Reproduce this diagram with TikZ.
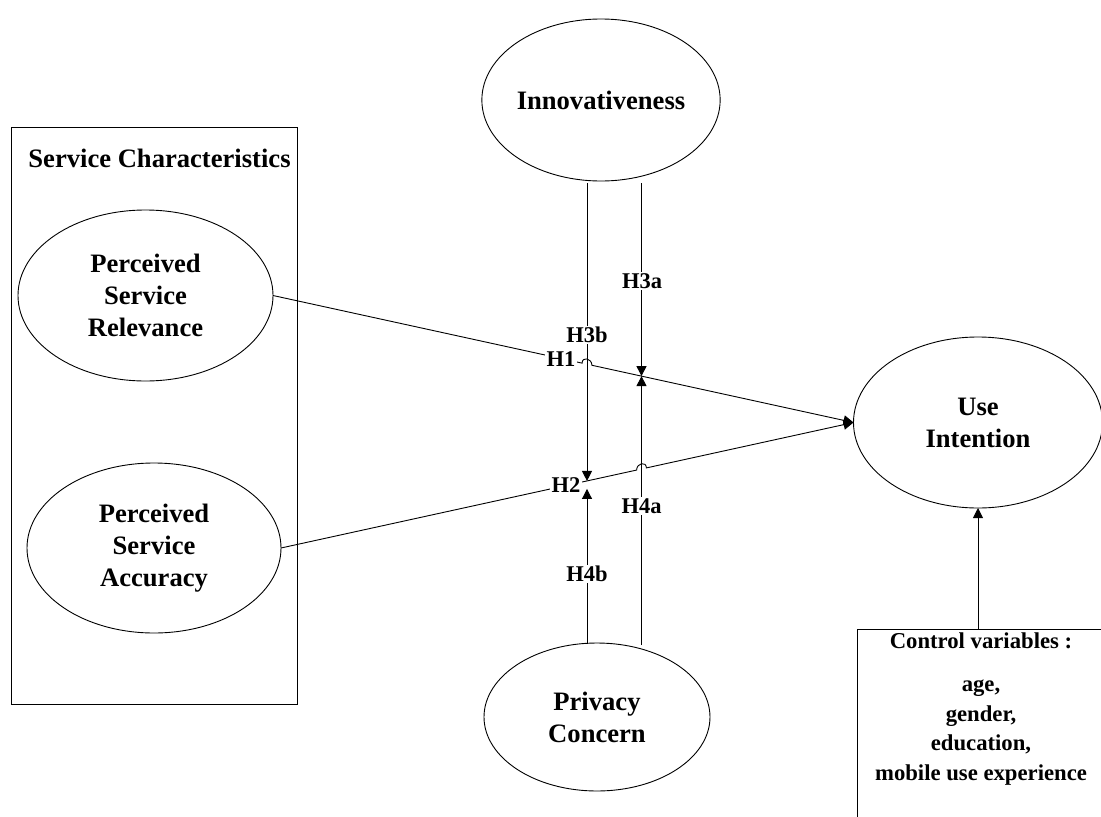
\documentclass[tikz,border=0pt]{standalone}
\usepackage{fontspec}
\setmainfont{Liberation Serif}
\usetikzlibrary{shapes.geometric,arrows.meta,calc}

\begin{document}
\begin{tikzpicture}[x=1pt,y=-1pt,
  construct/.style={ellipse,draw,line width=0.9pt,inner sep=0pt,outer sep=0pt,
    align=center,font=\fontsize{26.6}{32}\selectfont\bfseries},
  frame/.style={draw,line width=0.9pt,inner sep=0pt,outer sep=0pt},
  title/.style={font=\fontsize{26.6}{32}\selectfont\bfseries},
  hyp/.style={font=\fontsize{22.5}{27}\selectfont\bfseries,fill=white,inner sep=1.5pt},
  link/.style={line width=0.9pt,-{Triangle[length=10pt,width=10pt]}},
  plain/.style={line width=0.9pt},
]
\useasboundingbox (0,0) rectangle (1101,817);

% service characteristics block
\node[frame,minimum width=286,minimum height=577] (svcbox) at (154,415.5) {};
\node[title] (svctitle) at (159.5,158) {Service Characteristics};
\node[construct,minimum width=255,minimum height=171] (psr) at (145.5,295.5)
  {Perceived\\Service\\Relevance};
\node[construct,minimum width=254,minimum height=170] (psa) at (154,548)
  {Perceived\\Service\\Accuracy};

% moderators and outcome
\node[construct,minimum width=228,minimum height=162] (inn) at (601,100) {Innovativeness};
\node[construct,minimum width=226,minimum height=148] (pc) at (597,717) {Privacy\\Concern};
\node[construct,minimum width=249,minimum height=171] (ui) at (978,422.5) {Use\\Intention};

% control variables box (runs off the page to the right and bottom)
\node[inner sep=0pt,outer sep=0pt,minimum width=270,minimum height=210,anchor=north west]
  (ctrl) at (857,629) {};
\draw[plain] (ctrl.south west) |- (ctrl.north east);
\node[align=center,inner sep=0pt,font=\fontsize{22.7}{29.5}\selectfont\bfseries]
  (ctrltext) at (981,709)
  {Control variables :\\[14pt]age,\\gender,\\education,\\mobile use experience};
\draw[link] (ctrl.north west -| ui.south) -- (ui.south);

% moderator line ends
\coordinate (h3b-top) at (587,183);
\coordinate (h4b-bot) at (587,644);
\coordinate (h3a-top) at (641.5,183);
\coordinate (h4a-bot) at (641.5,645);

% crossings
\coordinate (c1) at (intersection of psr.east--ui.west and h3b-top--h4b-bot);
\coordinate (c2) at (intersection of psa.east--ui.west and h3a-top--h4a-bot);
\coordinate (m1) at (intersection of psr.east--ui.west and h3a-top--h4a-bot);
\coordinate (m2) at (intersection of psa.east--ui.west and h3b-top--h4b-bot);

% hop points
\coordinate (c1a) at ($(c1)!5pt!(psr.east)$);
\coordinate (c1b) at ($(c1)!5pt!(ui.west)$);
\coordinate (c2a) at ($(c2)!5pt!(psa.east)$);
\coordinate (c2b) at ($(c2)!5pt!(ui.west)$);

% main effects with line hops
\draw[link] (psr.east) -- (c1a)
  .. controls ($(c1a)+(0,-7)$) and ($(c1b)+(0,-7)$) .. (c1b) -- (ui.west);
\draw[link] (psa.east) -- (c2a)
  .. controls ($(c2a)+(0,-7)$) and ($(c2b)+(0,-7)$) .. (c2b) -- (ui.west);

% moderating effects
\draw[link] (h3b-top) -- (m2);
\draw[link] (h3a-top) -- (m1);
\draw[link] (h4a-bot) -- (m1);
\draw[link] (h4b-bot) -- ($(m2)+(0,8)$);

% hypothesis labels
\node[hyp] (lh1) at (561,359) {H1};
\node[hyp] (lh2) at (566,485) {H2};
\node[hyp] (lh3b) at (587,335) {H3b};
\node[hyp] (lh3a) at (642,281) {H3a};
\node[hyp] (lh4a) at (641.5,506) {H4a};
\node[hyp] (lh4b) at (587,574) {H4b};
\end{tikzpicture}
\end{document}
